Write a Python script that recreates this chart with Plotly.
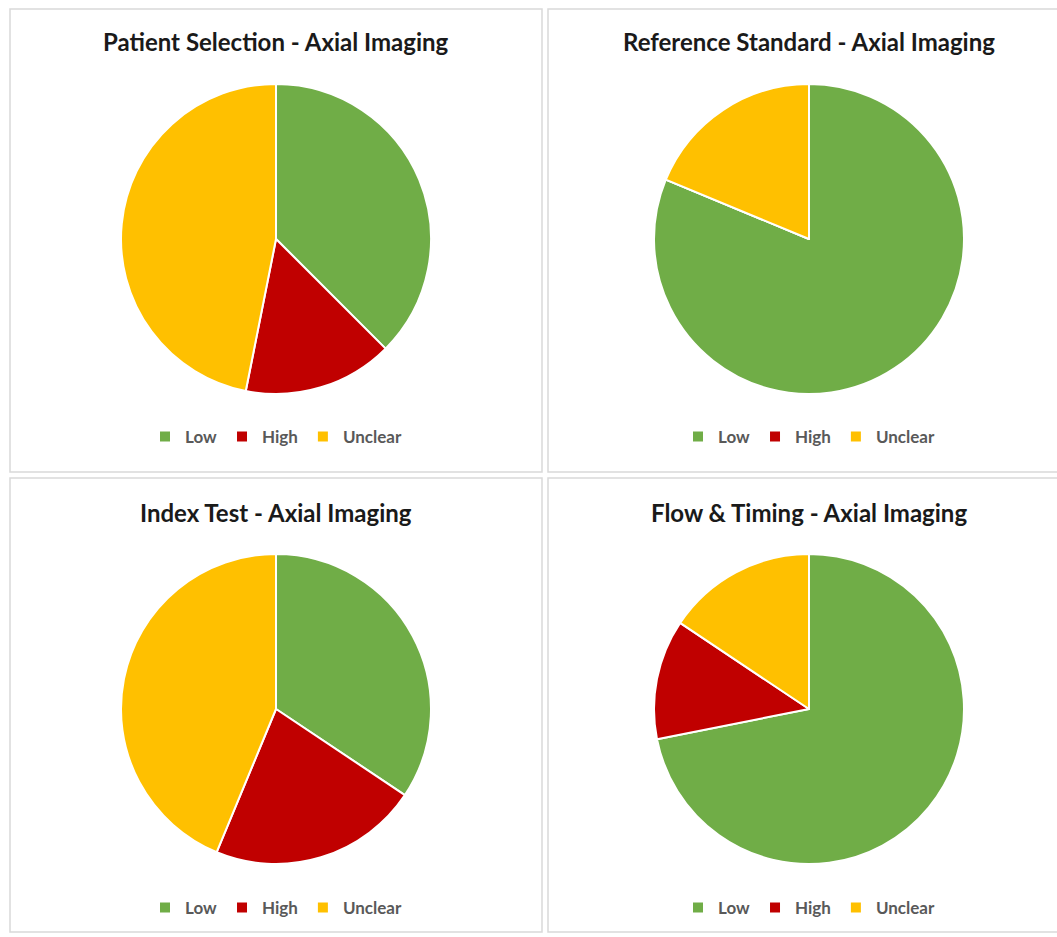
import plotly.graph_objects as go

W, H = 1057, 937

categories = ["Low", "High", "Unclear"]
colors = ["#70AD47", "#C00000", "#FFC000"]

titles = [
    "Patient Selection - Axial Imaging",
    "Reference Standard - Axial Imaging",
    "Index Test - Axial Imaging",
    "Flow & Timing - Axial Imaging",
]
patient_selection = [12, 5, 15]
reference_standard = [26, 0, 6]
index_test = [11, 7, 14]
flow_timing = [23, 4, 5]
series = [patient_selection, reference_standard, index_test, flow_timing]

# layout (pixels)
centers = [(276, 239), (809, 239), (276, 709), (809, 709)]
radius = 155
panels = [(10, 9, 542, 472), (548, 9, 1062, 472), (10, 478, 542, 932), (548, 478, 1062, 932)]
title_y = [42, 42, 512, 512]
legend_y = [437, 437, 908, 908]

def px(x):
    return x / W

def py(y):
    return 1 - y / H

fig = go.Figure()
legend_names = ["legend", "legend2", "legend3", "legend4"]

for i, vals in enumerate(series):
    cx, cy = centers[i]
    # zero-width spaces keep each chart's legend entries distinct
    labels = [c + "\u200b" * i for c in categories]
    fig.add_trace(go.Pie(
        labels=labels,
        values=vals,
        sort=False,
        direction="clockwise",
        rotation=0,
        marker=dict(colors=colors, line=dict(color="white", width=2)),
        textinfo="none",
        hoverinfo="label+value+percent",
        domain=dict(x=[px(cx - radius), px(cx + radius)], y=[py(cy + radius), py(cy - radius)]),
        legend=legend_names[i],
        showlegend=True,
    ))

shapes = []
for (x0, y0, x1, y1) in panels:
    shapes.append(dict(type="rect", xref="paper", yref="paper",
                       x0=px(x0), x1=px(x1), y0=py(y1), y1=py(y0),
                       line=dict(color="#d9d9d9", width=1.5), fillcolor="rgba(0,0,0,0)", layer="below"))

annotations = []
for i, t in enumerate(titles):
    annotations.append(dict(text="<b>%s</b>" % t, x=px(centers[i][0]), y=py(title_y[i]),
                            xref="paper", yref="paper", xanchor="center", yanchor="middle",
                            showarrow=False,
                            font=dict(family="Lato, sans-serif", size=24, color="#1a1a1a")))

layout_legends = {}
for i, name in enumerate(legend_names):
    layout_legends[name] = dict(
        orientation="h", x=px(centers[i][0]), y=py(legend_y[i]),
        xanchor="center", yanchor="middle",
        font=dict(family="Lato, sans-serif", size=17, color="#595959", weight="bold"),
        bgcolor="rgba(0,0,0,0)", itemwidth=30, traceorder="normal",
    )

fig.update_layout(
    width=W, height=H,
    margin=dict(l=0, r=0, t=0, b=0),
    paper_bgcolor="white",
    plot_bgcolor="white",
    shapes=shapes,
    annotations=annotations,
    **layout_legends,
)

fig.write_html("out.html")
